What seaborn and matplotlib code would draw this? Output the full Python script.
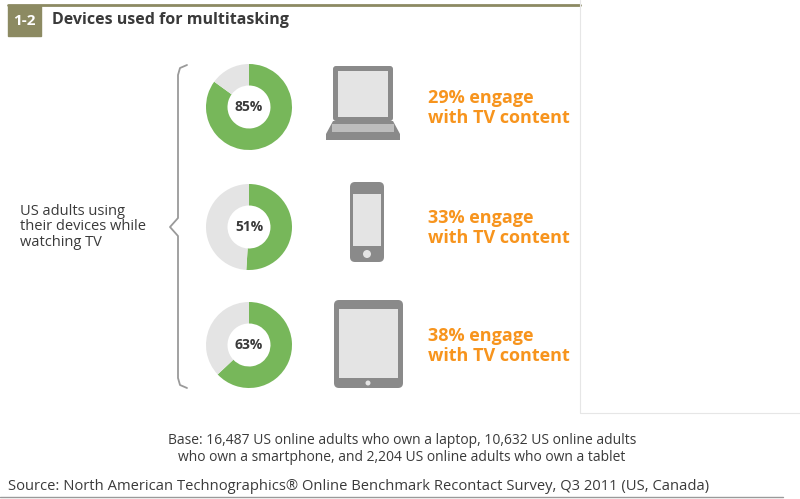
import matplotlib
matplotlib.use("Agg")
import matplotlib.pyplot as plt
import matplotlib.patches as mp
import seaborn as sns

sns.set_theme(style="white")
plt.rcParams['font.family'] = ['Open Sans', 'DejaVu Sans']

devices = ['laptop', 'smartphone', 'tablet']
use_pct = [85, 51, 63]
engage_pct = [29, 33, 38]
centers_y = [107, 227, 345]

GREEN = '#77b75a'
LIGHT = '#e4e4e4'
ORANGE = '#f7941d'
OLIVE = '#8c8a62'
DARK = '#3a3a3a'
ICON = '#8a8a8a'

W, H = 800, 499
fig = plt.figure(figsize=(8, 4.99), dpi=100)
ax = fig.add_axes([0, 0, 1, 1])
ax.set_xlim(0, W)
ax.set_ylim(H, 0)
ax.axis('off')

# header
ax.plot([8, 580], [5, 5], color=OLIVE, lw=2)
ax.add_patch(mp.Rectangle((8, 6), 33, 30, color=OLIVE))
ax.text(24, 21, '1-2', color='white', fontsize=11, fontweight='bold', ha='center', va='center')
ax.text(52, 20, 'Devices used for multitasking', color=DARK, fontsize=11.5, fontweight='bold', va='center')

# frame at right
ax.plot([580, 580], [0, 413], color='#e6e6e6', lw=0.8)
ax.plot([580, 800], [413, 413], color='#e6e6e6', lw=0.8)

# left label and brace
ax.text(20, 227, 'US adults using\ntheir devices while\nwatching TV', color=DARK, fontsize=10.5,
        va='center', ha='left', linespacing=1.05)
brace_x = [187, 180, 178, 178, 170, 178, 178, 180, 187]
brace_y = [65, 68, 75, 218, 227, 236, 378, 385, 388]
ax.plot(brace_x, brace_y, color='#9a9a9a', lw=1.3)

# donuts
for pct, cy in zip(use_pct, centers_y):
    r = 43
    iax = fig.add_axes([(249 - r) / W, 1 - (cy + r) / H, 2 * r / W, 2 * r / H])
    iax.pie([pct, 100 - pct], colors=[GREEN, LIGHT], startangle=90, counterclock=False,
            wedgeprops=dict(width=0.5, edgecolor='none'))
    iax.set_aspect('auto')
    iax.set_xlim(-1, 1)
    iax.set_ylim(-1, 1)
    iax.text(0, 0, f'{pct}%', ha='center', va='center', fontsize=10, fontweight='bold', color=DARK)

# laptop icon
ax.add_patch(mp.FancyBboxPatch((333, 66), 60, 55, boxstyle='round,pad=0,rounding_size=3', fc=ICON, ec='none'))
ax.add_patch(mp.Rectangle((338, 71), 50, 46, fc=LIGHT, ec='none'))
ax.add_patch(mp.Polygon([(333, 121), (393, 121), (400, 134), (400, 140), (326, 140), (326, 134)], fc=ICON, ec='none'))
ax.add_patch(mp.Rectangle((332, 124), 62, 8, fc='#bdbdbd', ec='none'))
# phone icon
ax.add_patch(mp.FancyBboxPatch((350, 182), 34, 80, boxstyle='round,pad=0,rounding_size=5', fc=ICON, ec='none'))
ax.add_patch(mp.Rectangle((353, 194), 28, 52, fc=LIGHT, ec='none'))
ax.add_patch(mp.Circle((367, 254), 4, fc=LIGHT, ec='none'))
# tablet icon
ax.add_patch(mp.FancyBboxPatch((334, 300), 69, 88, boxstyle='round,pad=0,rounding_size=5', fc=ICON, ec='none'))
ax.add_patch(mp.Rectangle((339, 309), 59, 69, fc=LIGHT, ec='none'))
ax.add_patch(mp.Circle((368, 383), 2.5, fc=LIGHT, ec='none'))

# orange text
for e, cy in zip(engage_pct, centers_y):
    ax.text(428, cy - 9, f'{e}% engage', color=ORANGE, fontsize=13, fontweight='bold', va='center')
    ax.text(428, cy + 11, 'with TV content', color=ORANGE, fontsize=13, fontweight='bold', va='center')

# footer
ax.text(402, 449, 'Base: 16,487 US online adults who own a laptop, 10,632 US online adults\n'
        'who own a smartphone, and 2,204 US online adults who own a tablet',
        ha='center', va='center', fontsize=10, color=DARK, linespacing=1.1)
ax.text(8, 486, 'Source: North American Technographics® Online Benchmark Recontact Survey, Q3 2011 (US, Canada)',
        ha='left', va='center', fontsize=10.6, color=DARK)
ax.plot([0, 783], [497, 497], color='#9a9a9a', lw=1)

fig.savefig('out.png', dpi=100)
